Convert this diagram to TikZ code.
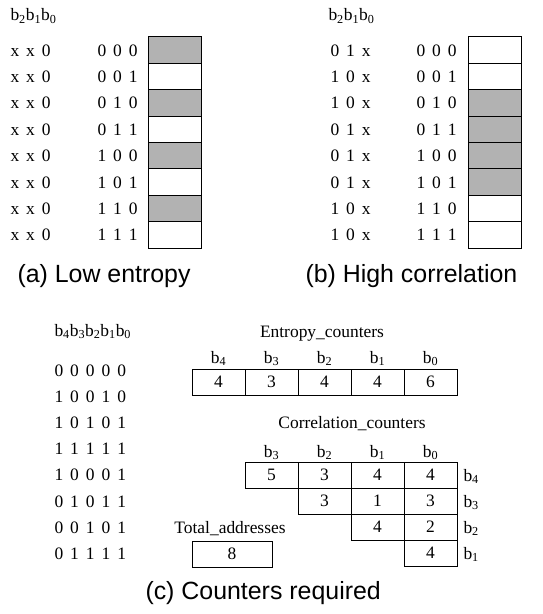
\documentclass[tikz,border=0pt]{standalone}
\usepackage{fontspec}
\setmainfont{Liberation Serif}[WordSpace=1.6]
\newfontfamily\capfont{Liberation Sans}

\tikzset{
  bits/.style={anchor=base west, inner sep=0pt},
  slot/.style={draw, minimum width=53bp, minimum height=26.375bp, inner sep=0pt},
  hit/.style={slot, fill=black!30},
  cnt/.style={draw, minimum height=26bp, minimum width=53bp, inner sep=0pt},
  subcap/.style={anchor=base west, inner sep=0pt, font=\capfont\fontsize{25}{30}\selectfont},
}

\begin{document}
\begin{tikzpicture}[x=1bp, y=-1bp, line width=1bp,
    font=\fontsize{17.5}{21}\selectfont]
  \useasboundingbox (0,0) rectangle (543,614);

  % (a) low entropy
  \node[bits] (ha) at (10,21) {b\textsubscript{2}b\textsubscript{1}b\textsubscript{0}};
  \foreach \addr/\s [count=\i] in {0 0 0/hit, 0 0 1/slot, 0 1 0/hit, 0 1 1/slot,
      1 0 0/hit, 1 0 1/slot, 1 1 0/hit, 1 1 1/slot} {
    \pgfmathsetmacro\yc{37+26.375*(\i-0.5)}
    \node[bits] (pa\i) at (10,\yc+6) {x x 0};
    \node[bits] (aa\i) at (97,\yc+6) {\addr};
    \node[\s] (ca\i) at (174.5,\yc) {};
  }
  \node[subcap] (capa) at (17,282) {(a) Low entropy};

  % (b) high correlation
  \node[bits] (hb) at (328,21) {b\textsubscript{2}b\textsubscript{1}b\textsubscript{0}};
  \foreach \pat/\addr/\s [count=\i] in {0 1 x/0 0 0/slot, 1 0 x/0 0 1/slot,
      1 0 x/0 1 0/hit, 0 1 x/0 1 1/hit, 0 1 x/1 0 0/hit, 0 1 x/1 0 1/hit,
      1 0 x/1 1 0/slot, 1 0 x/1 1 1/slot} {
    \pgfmathsetmacro\yc{37+26.375*(\i-0.5)}
    \node[bits] (pb\i) at (330,\yc+6) {\pat};
    \node[bits] (ab\i) at (416,\yc+6) {\addr};
    \node[\s] (cb\i) at (495,\yc) {};
  }
  \node[subcap] (capb) at (305,282) {(b) High correlation};

  % (c) counters required
  \node[bits] (hc) at (54,336)
    {b\textsubscript{4}b\textsubscript{3}b\textsubscript{2}b\textsubscript{1}b\textsubscript{0}};
  \foreach \addr [count=\i] in {0 0 0 0 0, 1 0 0 1 0, 1 0 1 0 1, 1 1 1 1 1,
      1 0 0 0 1, 0 1 0 1 1, 0 0 1 0 1, 0 1 1 1 1} {
    \pgfmathsetmacro\yc{370+26.2*(\i-1)}
    \node[bits] (ac\i) at (54,\yc+6) {\addr};
  }

  % entropy counters, one per bit
  \node[anchor=base] (etitle) at (322,337) {Entropy\_counters};
  \foreach \b/\v [count=\i] in {4/4, 3/3, 2/4, 1/4, 0/6} {
    \node[anchor=base] (eb\i) at (165.5+53*\i,363) {b\textsubscript{\b}};
    \node[cnt] (e\i) at (165.5+53*\i,382) {\v};
  }

  % correlation counters, upper triangle
  \node[anchor=base] (ctitle) at (352,428) {Correlation\_counters};
  \foreach \b [count=\i] in {3,2,1,0} {
    \node[anchor=base] (kb\i) at (218.5+53*\i,457) {b\textsubscript{\b}};
  }
  \foreach \vals [count=\r] in {{5,3,4,4},{3,1,3},{4,2},{4}} {
    \pgfmathsetmacro\yc{475+26*(\r-1)}
    \pgfmathtruncatemacro\lbl{5-\r}
    \foreach \v [count=\k] in \vals {
      \pgfmathtruncatemacro\col{\r+\k}
      \node[cnt] (c\r\k) at (165.5+53*\col,\yc) {\v};
    }
    \node[bits] (rb\r) at (463,\yc+6) {b\textsubscript{\lbl}};
  }

  % total addresses
  \node[anchor=base] (ttitle) at (230,533) {Total\_addresses};
  \node[cnt, minimum width=80bp] (tot) at (232,554) {8};

  \node[subcap] (capc) at (145,599) {(c) Counters required};
\end{tikzpicture}
\end{document}
